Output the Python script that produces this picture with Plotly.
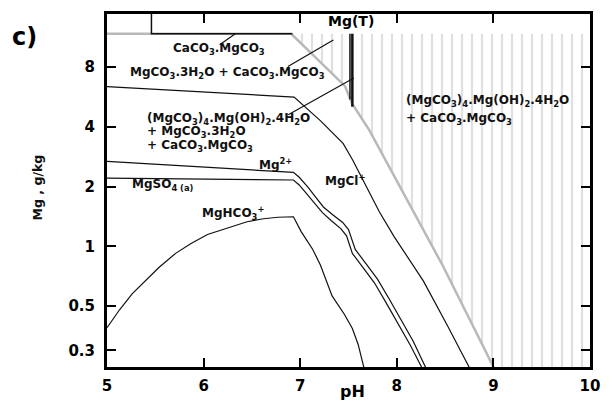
import math
import plotly.graph_objects as go

# ---- data (pH, Mg g/kg) ----
ph_mgt = [5.0, 6.907, 7.464, 7.535, 7.718, 8.479, 9.005]
mg_t = [11.77, 11.77, 6.41, 5.27, 3.83, 0.795, 0.245]

ph_a = [5.0, 6.937, 7.211, 7.444, 7.546, 7.667, 7.819, 7.972, 8.276, 8.529, 8.752]
mg_a = [6.37, 5.65, 4.29, 3.30, 2.71, 2.08, 1.494, 1.121, 0.669, 0.395, 0.245]

ph_mg2 = [5.0, 6.93, 6.99, 7.08, 7.16, 7.24, 7.34, 7.44, 7.50, 7.57, 7.70, 7.80, 7.92, 8.04, 8.17, 8.30]
mg_mg2 = [2.68, 2.36, 2.23, 1.99, 1.77, 1.58, 1.44, 1.32, 1.215, 0.966, 0.795, 0.685, 0.545, 0.433, 0.333, 0.245]

ph_so4 = [5.0, 6.93, 6.99, 7.07, 7.15, 7.23, 7.32, 7.42, 7.48, 7.54, 7.67, 7.77, 7.89, 8.01, 8.14, 8.26]
mg_so4 = [2.21, 2.16, 2.04, 1.84, 1.64, 1.48, 1.35, 1.23, 1.13, 0.923, 0.759, 0.654, 0.520, 0.414, 0.318, 0.245]

ph_hco3 = [5.0, 5.03, 5.13, 5.26, 5.41, 5.54, 5.71, 5.87, 6.04, 6.28, 6.45, 6.62, 6.77, 6.93,
           7.01, 7.13, 7.21, 7.33, 7.46, 7.54, 7.60, 7.66]
mg_hco3 = [0.39, 0.409, 0.48, 0.577, 0.677, 0.786, 0.923, 1.035, 1.148, 1.258, 1.332, 1.379, 1.403, 1.411,
           1.188, 0.966, 0.804, 0.564, 0.453, 0.386, 0.321, 0.245]

ph_box = [5.46, 5.46, 6.92]
mg_box = [15.0, 11.77, 11.77]

lead_ph = [[6.166, 6.332], [6.873, 7.343], [6.876, 7.556], [7.515, 7.515], [7.54, 7.54]]
lead_mg = [[10.37, 11.8], [8.06, 10.95], [4.60, 7.05], [11.77, 5.5], [11.77, 5.05]]
lead_w = [1.2, 1.2, 1.2, 1.5, 2.5]

x_ticks = [5, 6, 7, 8, 9, 10]
y_ticks = [0.3, 0.5, 1, 2, 4, 8]
y_ticktext = ["0.3", "0.5", "1", "2", "4", "8"]

X_MIN, X_MAX = 5, 10
Y_MIN, Y_MAX = 0.2472, 14.8

fig = go.Figure()

# hatched region (right of total Mg curve)
hx = ph_mgt[1:] + [X_MAX, X_MAX]
hy = mg_t[1:] + [mg_t[-1], mg_t[1]]
fig.add_trace(go.Scatter(
    x=hx, y=hy, mode="none", fill="toself", fillcolor="rgba(0,0,0,0)",
    fillpattern=dict(shape="|", size=10, solidity=0.22, fgcolor="#c2c2c2", bgcolor="rgba(0,0,0,0)"),
    hoverinfo="skip", showlegend=False))

# total Mg (gray)
fig.add_trace(go.Scatter(x=ph_mgt, y=mg_t, mode="lines",
                         line=dict(color="#b9b9b9", width=2.5), showlegend=False))

line_style = dict(color="#111111", width=1.2)
for xs, ys in [(ph_a, mg_a), (ph_mg2, mg_mg2), (ph_so4, mg_so4), (ph_hco3, mg_hco3)]:
    fig.add_trace(go.Scatter(x=xs, y=ys, mode="lines", line=line_style, showlegend=False))

fig.add_trace(go.Scatter(x=ph_box, y=mg_box, mode="lines",
                         line=dict(color="#111111", width=1.5), showlegend=False))

for xs, ys, w in zip(lead_ph, lead_mg, lead_w):
    fig.add_trace(go.Scatter(x=xs, y=ys, mode="lines",
                             line=dict(color="#111111", width=w), showlegend=False))

lab_font = dict(family="DejaVu Sans", size=12, color="#111111", weight="bold")


def lab(text, x, y, xanchor="left", font=None):
    fig.add_annotation(x=x, y=math.log10(y), xref="x", yref="y", text=text, showarrow=False,
                       xanchor=xanchor, yanchor="middle", font=font or lab_font)


lab("CaCO<sub>3</sub>.MgCO<sub>3</sub>", 6.156, 9.91, "center")
lab("MgCO<sub>3</sub>.3H<sub>2</sub>O + CaCO<sub>3</sub>.MgCO<sub>3</sub>", 5.213, 7.46)
lab("(MgCO<sub>3</sub>)<sub>4</sub>.Mg(OH)<sub>2</sub>.4H<sub>2</sub>O", 5.39, 4.39)
lab("+ MgCO<sub>3</sub>.3H<sub>2</sub>O", 5.39, 3.76)
lab("+ CaCO<sub>3</sub>.MgCO<sub>3</sub>", 5.39, 3.22)
lab("(MgCO<sub>3</sub>)<sub>4</sub>.Mg(OH)<sub>2</sub>.4H<sub>2</sub>O", 8.073, 5.40)
lab("+ CaCO<sub>3</sub>.MgCO<sub>3</sub>", 8.073, 4.39)
lab("Mg<sup>2+</sup>", 6.552, 2.59)
lab("MgSO<sub>4 (a)</sub>", 5.233, 2.04)
lab("MgHCO<sub>3</sub><sup>+</sup>", 5.96, 1.477)
lab("MgCl<sup>+</sup>", 7.241, 2.157)
lab("Mg(T)", 7.53, 13.66, "center", dict(family="DejaVu Sans", size=14, color="black", weight="bold"))

fig.add_annotation(xref="paper", yref="paper", x=-0.170, y=0.9356, text="c)", showarrow=False,
                   xanchor="center", yanchor="middle",
                   font=dict(family="DejaVu Sans", size=24, color="black", weight="bold"))
fig.add_annotation(xref="paper", yref="paper", x=0.509, y=-0.070, text="pH", showarrow=False,
                   xanchor="center", yanchor="middle",
                   font=dict(family="DejaVu Sans", size=16, color="black", weight="bold"))
fig.add_annotation(xref="paper", yref="paper", x=-0.142, y=0.51, text="Mg , g/kg", showarrow=False,
                   textangle=-90, xanchor="center", yanchor="middle",
                   font=dict(family="DejaVu Sans", size=12.5, color="#111111", weight="bold"))

tick_font = dict(family="DejaVu Sans", size=15, color="black", weight="bold")
axis_common = dict(showgrid=False, zeroline=False, showline=True, linecolor="black", linewidth=3,
                   mirror="ticks", ticks="inside", ticklen=9, tickwidth=1.5, tickcolor="black",
                   tickfont=tick_font)

fig.update_layout(
    width=611, height=406,
    margin=dict(l=107, r=11, t=12, b=37),
    paper_bgcolor="white", plot_bgcolor="white",
    showlegend=False,
    xaxis=dict(range=[X_MIN, X_MAX], tickvals=x_ticks, ticklabelstandoff=3, **axis_common),
    yaxis=dict(type="log", range=[math.log10(Y_MIN), math.log10(Y_MAX)], tickvals=y_ticks,
               ticktext=y_ticktext, ticklabelstandoff=6, **axis_common),
)

fig.write_html("out.html", config={"displayModeBar": False},
               post_script="document.body.style.margin='0';document.body.style.overflow='hidden';")
